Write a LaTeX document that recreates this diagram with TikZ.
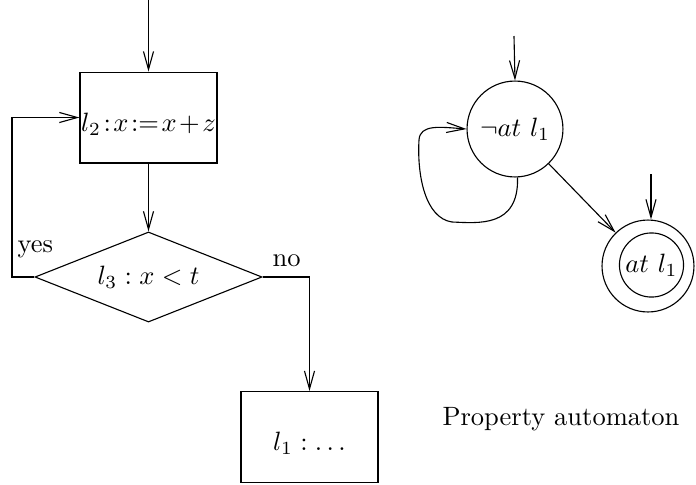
\documentclass[tikz,border=0pt]{standalone}
\usetikzlibrary{arrows.meta,shapes.geometric}
\begin{document}
\begin{tikzpicture}[x=0.3774pt,y=-0.3774pt,
  line width=0.42pt,
  arr/.style={-{Straight Barb[length=6.8pt,width=3.8pt,line width=0.42pt]}},
  stmt/.style={draw,rectangle,inner sep=0pt,minimum width=51.7pt,minimum height=34.3pt},
  test/.style={draw,diamond,inner sep=0pt,shape aspect=2.5,minimum width=85.7pt,minimum height=34pt},
  state/.style={draw,circle,inner sep=0pt,minimum size=36.2pt},
  lbl/.style={inner sep=0pt,anchor=base west}]
\useasboundingbox (0,0) rectangle (696,484);
% flowchart
\node[stmt] (b1) at (148.5,117.5) {\raisebox{-2.4pt}[\height][\depth]{$l_2\mskip1.7mu{:}\mskip1.7mu x\mskip1.7mu{:=}\mskip1.7mu x\mskip1.7mu{+}\mskip1.7mu z$}};
\node[test] (d) at (148.5,277) {$l_3 : x < t$};
\node[stmt] (b2) at (309.5,437) {\raisebox{-2.4pt}[\height][\depth]{$l_1 : \ldots$}};
\coordinate (top) at (148.5,0);
\coordinate (yc) at (12,277);
\draw[arr] (top) -- (b1.north);
\draw[arr] (b1.south) -- (d.north);
\draw[arr] (d.west) -- (yc) |- (b1.west);
\draw[arr] (d.east) -| (b2.north);
\node[lbl] (yes) at (17,252) {yes};
\node[lbl] (no) at (272,266) {no};
% automaton
\node[state] (c1) at (515,129) {$\neg at\ l_1$};
\node[state,minimum size=34.7pt] (c2) at (648,266) {};
\node[state,minimum size=24.2pt] (c2in) at (651.5,265) {$at\ l_1$};
\coordinate (t1) at (514,36);
\coordinate (t2) at (651,174);
\draw[arr] (t1) -- (c1.north);
\draw[arr] (t2) -- (t2 |- c2.north);
\draw[arr] (c1) -- (c2);
\draw[arr] (c1.-87) .. controls (519,228) and (478,223) .. (452,222)
  .. controls (425,218) and (417,175) .. (419,140)
  .. controls (420,124) and (440,127) .. (c1.west);
\node[lbl] (prop) at (442,425) {Property automaton};
\end{tikzpicture}
\end{document}
